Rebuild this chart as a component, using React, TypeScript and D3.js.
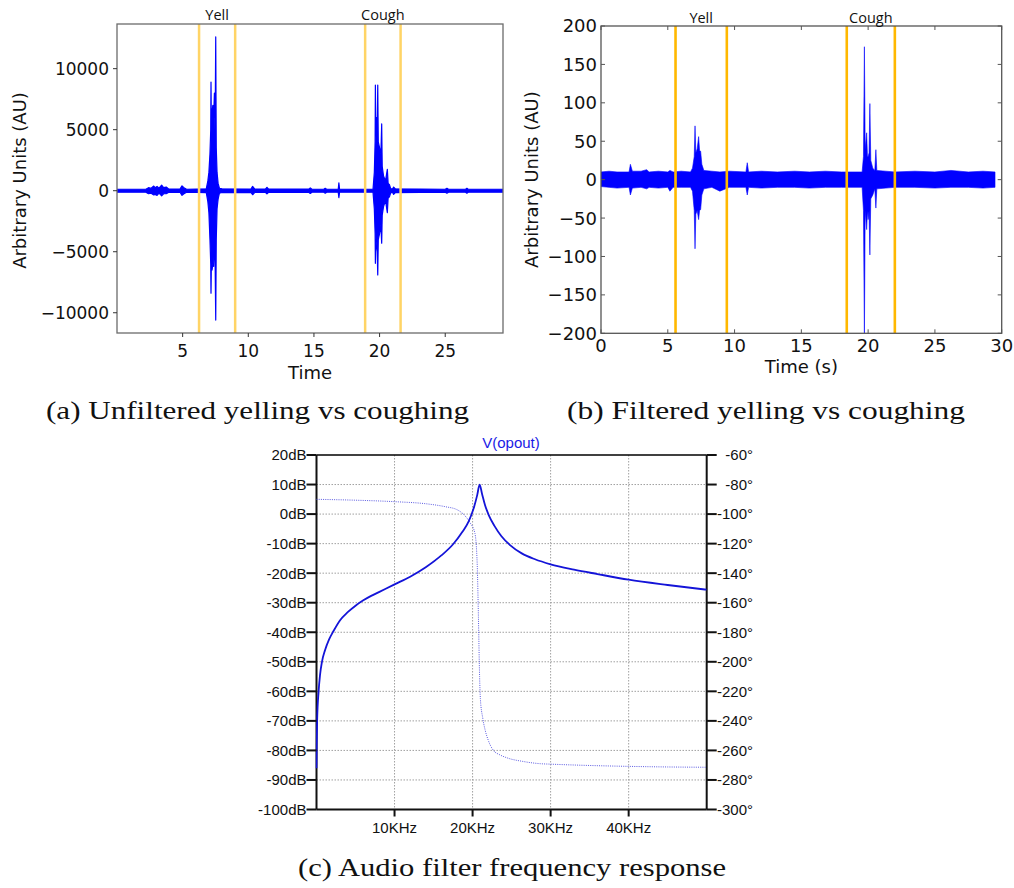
import React from "react";
import * as d3 from "d3";

// ---------------- Panel (a): unfiltered ----------------
const aYTicks = [-10000, -5000, 0, 5000, 10000];
const aXTicks = [5, 10, 15, 20, 25];
const aMarkers = [6.25, 9.0, 18.9, 21.6];
const aLabels: [string, number, number][] = [["Yell", 6.25, 9.0], ["Cough", 18.9, 21.6]];
// envelope [time, upper, lower]
const aEnvelope: [number, number, number][] = [
  [0, 120, -120], [2.2, 120, -120], [2.4, 250, -250], [2.6, 200, -200], [2.8, 380, -350],
  [2.9, 250, -300], [3.05, 350, -380], [3.2, 200, -200], [3.4, 450, -420], [3.55, 250, -250],
  [3.75, 300, -250], [3.95, 130, -130], [4.8, 130, -130], [4.95, 400, -380], [5.1, 250, -250],
  [5.3, 120, -120], [6.8, 150, -150], [6.92, 800, -900], [7.0, 1500, -1800], [7.08, 3000, -4000],
  [7.14, 5000, -6000], [7.16, 8900, -8400], [7.18, 5500, -6500], [7.24, 6500, -6500], [7.3, 7000, -6000],
  [7.36, 6000, -6200], [7.42, 8000, -4500], [7.47, 4500, -5500], [7.52, 12600, -10600], [7.56, 3500, -4000],
  [7.62, 1500, -1500], [7.7, 600, -700], [7.8, 200, -200], [8.0, 150, -150], [10.2, 130, -130],
  [10.33, 350, -330], [10.5, 130, -130], [11.3, 130, -130], [11.42, 280, -260], [11.55, 130, -130],
  [14.6, 130, -130], [14.72, 230, -220], [14.85, 120, -120], [15.75, 120, -120], [15.86, 200, -200],
  [15.97, 120, -120], [16.85, 120, -120], [16.9, 650, -570], [16.95, 120, -120], [19.5, 120, -120],
  [19.6, 1500, -1500], [19.66, 4000, -3500], [19.68, 8660, -5950], [19.71, 4500, -4000], [19.76, 6000, -4500],
  [19.82, 5000, -5000], [19.86, 8660, -6900], [19.9, 4000, -4000], [20.0, 3500, -3500], [20.1, 3000, -2800],
  [20.16, 5470, -4300], [20.2, 2000, -2000], [20.3, 1200, -1300], [20.45, 800, -800], [20.59, 1750, -1800],
  [20.65, 600, -600], [20.75, 500, -500], [20.85, 150, -150], [21.0, 150, -150], [21.07, 300, -300],
  [21.2, 150, -150], [25.0, 120, -120], [25.13, 200, -200], [25.25, 120, -120], [26.55, 120, -120],
  [26.65, 200, -200], [26.75, 120, -120], [29.4, 120, -120],
];

// ---------------- Panel (b): filtered ----------------
const bYTicks = [-200, -150, -100, -50, 0, 50, 100, 150, 200];
const bXTicks = [0, 5, 10, 15, 20, 25, 30];
const bMarkers = [5.58, 9.42, 18.4, 22.0];
const bLabels: [string, number, number][] = [["Yell", 5.58, 9.42], ["Cough", 18.4, 22.0]];
const bEnvelope: [number, number, number][] = [
  [0, 10, -9], [0.6, 11, -10], [1.2, 10, -11], [2.1, 10, -10], [2.2, 20, -20], [2.35, 11, -11],
  [3.0, 11, -10], [3.42, 13, -12], [3.6, 10, -10], [4.3, 11, -11], [5.0, 10, -10], [5.16, 12, -15],
  [5.4, 10, -10], [6.0, 11, -10], [6.7, 10, -10], [6.85, 15, -15], [6.98, 30, -40], [7.04, 70, -90],
  [7.1, 35, -45], [7.2, 40, -40], [7.31, 56, -52], [7.38, 38, -40], [7.46, 37, -39], [7.55, 20, -20],
  [7.7, 12, -12], [8.3, 11, -10], [8.9, 10, -15], [9.6, 11, -10], [10.85, 10, -10], [10.95, 22, -20],
  [11.05, 10, -10], [12.0, 11, -11], [13.2, 10, -10], [14.5, 11, -10], [15.6, 10, -11], [16.8, 11, -10],
  [18.0, 10, -10], [19.55, 10, -10], [19.65, 30, -40], [19.72, 173, -205], [19.78, 40, -40], [19.89, 61, -65],
  [19.95, 30, -40], [20.0, 30, -52], [20.07, 35, -40], [20.13, 99, -98], [20.2, 25, -25], [20.35, 15, -20],
  [20.5, 12, -12], [20.58, 39, -37], [20.65, 12, -12], [22.0, 10, -10], [23.5, 11, -10], [25.0, 10, -11],
  [26.2, 12, -10], [27.5, 10, -10], [28.6, 11, -11], [29.5, 10, -10],
];

// ---------------- Panel (c): filter response ----------------
const cFreqTicks = [10, 20, 30, 40];
const cDbTicks = [20, 10, 0, -10, -20, -30, -40, -50, -60, -70, -80, -90, -100];
const cPhaseTicks = [-60, -80, -100, -120, -140, -160, -180, -200, -220, -240, -260, -280, -300];
const cMagnitude: [number, number][] = [
  [0, -86], [0.03, -78], [0.08, -70], [0.27, -60], [0.45, -54.5], [0.7, -50], [1.1, -46], [1.6, -42.5],
  [2.2, -39.5], [3.0, -36], [4.0, -33.2], [5.0, -31], [6.0, -29.2], [7.0, -27.7], [8.0, -26.4], [10, -23.8],
  [12, -21.2], [14, -18], [16, -14], [17.5, -10.2], [18.7, -6], [19.5, -2.5], [20.2, 2.5], [20.6, 6.5],
  [20.9, 10], [21.2, 7], [21.6, 3], [22.1, -0.5], [22.8, -4], [23.7, -7.5], [24.8, -10.5], [26.3, -13.3],
  [28, -15.3], [30, -17], [33, -18.8], [36, -20.3], [40, -22.2], [45, -24], [50, -25.6],
];
const cPhase: [number, number][] = [
  [0, -90], [5, -90.6], [10, -91.6], [14, -93], [16.5, -95], [18, -97], [19.0, -101], [19.7, -106],
  [20.3, -113], [20.6, -135], [20.75, -170], [20.9, -210], [21.0, -225], [21.3, -238], [21.6, -246],
  [22.0, -253], [22.67, -260], [23.5, -263], [24.4, -265], [26.5, -267.5], [28.7, -269], [30, -269.3],
  [35, -270.2], [40, -270.8], [45, -271.2], [50, -271.4],
];

const MPL = "'DejaVu Sans', sans-serif";
const ARIAL = "'Liberation Sans', Arial, sans-serif";
const CAL = "'Open Sans', 'Noto Sans', sans-serif";
const SERIF = "'Liberation Serif', 'DejaVu Serif', serif";

const fmtMinus = (v: number) => (v < 0 ? "\u2212" + Math.abs(v) : String(v));

export default function App() {
  // ----- A -----
  const aL = 117, aR = 503, aT = 24, aB = 333;
  const ax = d3.scaleLinear().domain([0, 29.4]).range([aL, aR]);
  const ay = d3.scaleLinear().domain([-11660, 13660]).range([aB, aT]);
  const aArea = d3.area<[number, number, number]>().x(d => ax(d[0])).y0(d => ay(d[2])).y1(d => ay(d[1]));

  // ----- B -----
  const bL = 601, bR = 1001.7, bT = 26, bB = 333.3;
  const bx = d3.scaleLinear().domain([0, 30]).range([bL, bR]);
  const by = d3.scaleLinear().domain([-200, 200]).range([bB, bT]);
  const bArea = d3.area<[number, number, number]>().x(d => bx(d[0])).y0(d => by(d[2])).y1(d => by(d[1]));

  // ----- C -----
  const cL = 316.5, cR = 706.7, cT = 455, cB = 809.5;
  const cx = d3.scaleLinear().domain([0, 50]).range([cL, cR]);
  const cy = d3.scaleLinear().domain([-100, 20]).range([cB, cT]);
  const cp = d3.scaleLinear().domain([-300, -60]).range([cB, cT]);
  const magLine = d3.line<[number, number]>().x(d => cx(d[0])).y(d => cy(d[1])).curve(d3.curveMonotoneX);
  const phLine = d3.line<[number, number]>().x(d => cx(d[0])).y(d => cp(d[1])).curve(d3.curveMonotoneX);

  return (
    <svg width={1014} height={888} style={{ position: "absolute", left: 0, top: 0, background: "#fff" }}>
      <defs>
        <clipPath id="clipA"><rect x={aL} y={aT} width={aR - aL} height={aB - aT} /></clipPath>
        <clipPath id="clipB"><rect x={bL} y={bT} width={bR - bL} height={bB - bT} /></clipPath>
        <clipPath id="clipC"><rect x={cL - 1} y={cT} width={cR - cL + 1} height={cB - cT} /></clipPath>
      </defs>

      {/* ===== Panel A ===== */}
      <g>
        <g clipPath="url(#clipA)">
          <path d={aArea(aEnvelope) || ""} fill="#0000ff" stroke="#0000ff" strokeWidth={1.2} strokeLinejoin="round" />
          {aMarkers.map((m, i) => (
            <line key={i} x1={ax(m)} x2={ax(m)} y1={aT} y2={aB} stroke="#ffd466" strokeWidth={2.5} />
          ))}
        </g>
        <rect x={aL} y={aT} width={aR - aL} height={aB - aT} fill="none" stroke="#6b6b6b" strokeWidth={1.3} />
        {aYTicks.map(t => (
          <g key={t}>
            <line x1={aL - 4} x2={aL} y1={ay(t)} y2={ay(t)} stroke="#333" strokeWidth={1} />
            <text x={aL - 8} y={ay(t)} dy="0.35em" textAnchor="end" fontFamily={MPL} fontSize={17} fill="#111">{fmtMinus(t)}</text>
          </g>
        ))}
        {aXTicks.map(t => (
          <g key={t}>
            <line x1={ax(t)} x2={ax(t)} y1={aB} y2={aB + 4} stroke="#333" strokeWidth={1} />
            <text x={ax(t)} y={357} textAnchor="middle" fontFamily={MPL} fontSize={17} fill="#111">{t}</text>
          </g>
        ))}
        <text x={ax(14.7)} y={379} textAnchor="middle" fontFamily={MPL} fontSize={18} fill="#111">Time</text>
        <text transform={`translate(26,${(aT + aB) / 2 + 2}) rotate(-90)`} textAnchor="middle" fontFamily={MPL} fontSize={18} fill="#111">Arbitrary Units (AU)</text>
        {aLabels.map(([lab, s, e]) => (
          <text key={lab} x={(ax(s) + ax(e)) / 2} y={20} textAnchor="middle" fontFamily={CAL} fontSize={14.5} fill="#111">{lab}</text>
        ))}
      </g>

      {/* ===== Panel B ===== */}
      <g>
        <g clipPath="url(#clipB)">
          <path d={bArea(bEnvelope) || ""} fill="#0000ff" stroke="#0000ff" strokeWidth={0.6} strokeLinejoin="round" />
          {bMarkers.map((m, i) => (
            <line key={i} x1={bx(m)} x2={bx(m)} y1={bT} y2={bB} stroke="#ffb800" strokeWidth={2.6} />
          ))}
        </g>
        <rect x={bL} y={bT} width={bR - bL} height={bB - bT} fill="none" stroke="#555" strokeWidth={1.3} />
        {bYTicks.map(t => (
          <g key={t}>
            <line x1={bL} x2={bL + 4} y1={by(t)} y2={by(t)} stroke="#555" strokeWidth={1} />
            <line x1={bR - 4} x2={bR} y1={by(t)} y2={by(t)} stroke="#555" strokeWidth={1} />
            <text x={bL - 4} y={by(t)} dy="0.36em" textAnchor="end" fontFamily={MPL} fontSize={18} fill="#111">{fmtMinus(t)}</text>
          </g>
        ))}
        {bXTicks.map(t => (
          <g key={t}>
            <line x1={bx(t)} x2={bx(t)} y1={bB - 4} y2={bB} stroke="#555" strokeWidth={1} />
            <line x1={bx(t)} x2={bx(t)} y1={bT} y2={bT + 4} stroke="#555" strokeWidth={1} />
            <text x={bx(t)} y={352} textAnchor="middle" fontFamily={MPL} fontSize={18} fill="#111">{t}</text>
          </g>
        ))}
        <text x={bx(15)} y={373} textAnchor="middle" fontFamily={MPL} fontSize={18} fill="#111">Time (s)</text>
        <text transform={`translate(538,${(bT + bB) / 2}) rotate(-90)`} textAnchor="middle" fontFamily={MPL} fontSize={18} fill="#111">Arbitrary Units (AU)</text>
        {bLabels.map(([lab, s, e]) => (
          <text key={lab} x={(bx(s) + bx(e)) / 2} y={22.5} textAnchor="middle" fontFamily={CAL} fontSize={14.5} fill="#111">{lab}</text>
        ))}
      </g>

      {/* ===== Panel C ===== */}
      <g>
        {cDbTicks.filter(t => t !== 20 && t !== -100).map(t => (
          <line key={t} x1={cL} x2={cR} y1={cy(t)} y2={cy(t)} stroke="#a0a0a0" strokeWidth={1} strokeDasharray="1.5,1.5" />
        ))}
        {cFreqTicks.map(t => (
          <line key={t} x1={cx(t)} x2={cx(t)} y1={cT} y2={cB} stroke="#a0a0a0" strokeWidth={1} strokeDasharray="1.5,1.5" />
        ))}
        <line x1={cL} x2={cR} y1={cT} y2={cT} stroke="#000" strokeWidth={1.5} />
        <line x1={cL} x2={cL} y1={cT} y2={cB} stroke="#111" strokeWidth={2} />
        <line x1={cR} x2={cR} y1={cT} y2={cB} stroke="#111" strokeWidth={2} />
        <line x1={cL} x2={cR} y1={cB} y2={cB} stroke="#111" strokeWidth={2} />
        <g clipPath="url(#clipC)">
          <path d={phLine(cPhase) || ""} fill="none" stroke="#5a5ae0" strokeWidth={1} strokeDasharray="1,1.2" />
          <path d={magLine(cMagnitude) || ""} fill="none" stroke="#1414d8" strokeWidth={1.8} />
        </g>
        {cDbTicks.map(t => (
          <g key={t}>
            <line x1={cL - 10} x2={cL} y1={cy(t)} y2={cy(t)} stroke="#111" strokeWidth={2} />
            <text x={cL - 10} y={cy(t)} dy="0.36em" textAnchor="end" fontFamily={ARIAL} fontSize={15} fill="#111">{t}dB</text>
          </g>
        ))}
        {cPhaseTicks.map(t => (
          <g key={t}>
            <line x1={cR} x2={cR + 10} y1={cp(t)} y2={cp(t)} stroke="#111" strokeWidth={2} />
            <text x={753} y={cp(t)} dy="0.36em" textAnchor="end" fontFamily={ARIAL} fontSize={15} fill="#111">{t}°</text>
          </g>
        ))}
        {cFreqTicks.map(t => (
          <g key={t}>
            <line x1={cx(t)} x2={cx(t)} y1={cB} y2={cB + 7} stroke="#111" strokeWidth={2} />
            <text x={cx(t)} y={833} textAnchor="middle" fontFamily={ARIAL} fontSize={15} fill="#111">{t}KHz</text>
          </g>
        ))}
        <text x={511} y={448} textAnchor="middle" fontFamily={ARIAL} fontSize={15} fill="#1a1ae6">V(opout)</text>
      </g>

      {/* ===== Captions ===== */}
      <text x={46} y={419} textLength={423} lengthAdjust="spacingAndGlyphs" fontFamily={SERIF} fontSize={25} fill="#111">(a) Unfiltered yelling vs coughing</text>
      <text x={567} y={419} textLength={398} lengthAdjust="spacingAndGlyphs" fontFamily={SERIF} fontSize={25} fill="#111">(b) Filtered yelling vs coughing</text>
      <text x={298} y={876} textLength={428} lengthAdjust="spacingAndGlyphs" fontFamily={SERIF} fontSize={25} fill="#111">(c) Audio filter frequency response</text>
    </svg>
  );
}
